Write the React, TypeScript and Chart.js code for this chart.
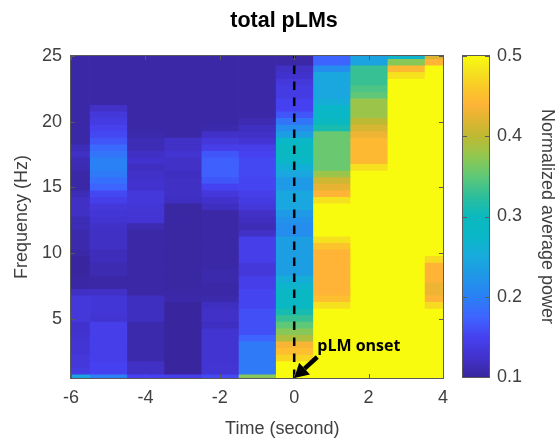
import React, { useEffect, useRef } from "react";
import { Chart, registerables } from "chart.js";

Chart.register(...registerables);

// Time columns (seconds); every column below lists power from 25 Hz down to 0.5 Hz
const times = [-6, -5, -4, -3, -2, -1, 0, 1, 2, 3, 4];
const frequencies = [25, 24.5, 24, 23.5, 23, 22.5, 22, 21.5, 21, 20.5, 20, 19.5, 19, 18.5, 18, 17.5, 17, 16.5, 16, 15.5, 15, 14.5, 14, 13.5, 13, 12.5, 12, 11.5, 11, 10.5, 10, 9.5, 9, 8.5, 8, 7.5, 7, 6.5, 6, 5.5, 5, 4.5, 4, 3.5, 3, 2.5, 2, 1.5, 1, 0.5];

const powerM6 = [.105, .105, .105, .105, .105, .105, .105, .105, .105, .105, .105, .105, .105, .105, .115, .12, .112, .11, .105, .105, .105, .112, .12, .12, .12, .112, .112, .108, .108, .108, .105, .1, .1, .1, .103, .103, .12, .135, .135, .135, .135, .125, .125, .128, .13, .13, .135, .135, .14, .24];
const powerM5 = [.105, .105, .105, .105, .105, .105, .105, .105, .122, .135, .14, .148, .155, .165, .18, .19, .2, .2, .195, .185, .175, .155, .145, .135, .132, .128, .122, .12, .12, .12, .115, .115, .11, .11, .105, .105, .122, .132, .132, .132, .128, .145, .145, .145, .145, .145, .145, .15, .15, .2];
const powerM4 = [.105, .105, .105, .105, .105, .105, .105, .105, .105, .105, .105, .105, .108, .112, .112, .12, .125, .118, .122, .125, .125, .135, .135, .132, .13, .13, .11, .105, .105, .105, .105, .105, .105, .105, .105, .105, .105, .118, .118, .118, .118, .108, .108, .108, .108, .108, .108, .12, .12, .15];
const powerM3 = [.105, .105, .105, .105, .105, .105, .105, .105, .105, .105, .105, .105, .105, .122, .122, .128, .122, .122, .118, .12, .12, .12, .118, .102, .102, .102, .102, .102, .102, .102, .102, .102, .102, .102, .102, .102, .105, .106, .1, .1, .1, .1, .1, .1, .1, .1, .1, .1, .1, .145];
const powerM2 = [.105, .105, .105, .105, .105, .105, .105, .105, .105, .105, .105, .108, .122, .135, .145, .165, .172, .172, .172, .165, .15, .135, .125, .118, .105, .105, .105, .105, .105, .105, .105, .105, .105, .108, .108, .105, .105, .108, .118, .122, .122, .118, .128, .128, .128, .128, .128, .13, .13, .155];
const powerM1 = [.105, .105, .105, .105, .105, .105, .105, .105, .105, .105, .11, .118, .122, .13, .145, .15, .155, .155, .155, .152, .152, .145, .14, .135, .122, .118, .112, .122, .145, .145, .145, .145, .135, .135, .145, .145, .152, .152, .152, .16, .16, .16, .16, .175, .195, .195, .195, .195, .195, .37];
const power0 = [.105, .105, .12, .125, .135, .14, .14, .15, .15, .165, .19, .215, .235, .28, .29, .29, .28, .26, .245, .23, .23, .245, .245, .245, .23, .22, .215, .215, .235, .235, .235, .235, .235, .235, .255, .27, .285, .285, .285, .31, .33, .35, .37, .39, .435, .45, .47, .5, .5, .5];
const power1 = [.175, .175, .215, .245, .245, .245, .245, .255, .275, .28, .29, .31, .355, .355, .355, .355, .355, .355, .38, .41, .425, .44, .48, .5, .5, .5, .5, .5, .48, .455, .44, .44, .44, .44, .44, .44, .44, .45, .48, .5, .5, .5, .5, .5, .5, .5, .5, .5, .5, .5];
const power2 = [.24, .24, .33, .33, .33, .34, .35, .38, .38, .38, .4, .415, .43, .445, .445, .445, .445, .48, .5, .5, .5, .5, .5, .5, .5, .5, .5, .5, .5, .5, .5, .5, .5, .5, .5, .5, .5, .5, .5, .5, .5, .5, .5, .5, .5, .5, .5, .5, .5, .5];
const power3 = [.27, .37, .445, .48, .5, .5, .5, .5, .5, .5, .5, .5, .5, .5, .5, .5, .5, .5, .5, .5, .5, .5, .5, .5, .5, .5, .5, .5, .5, .5, .5, .5, .5, .5, .5, .5, .5, .5, .5, .5, .5, .5, .5, .5, .5, .5, .5, .5, .5, .5];
const power4 = [.42, .44, .5, .5, .5, .5, .5, .5, .5, .5, .5, .5, .5, .5, .5, .5, .5, .5, .5, .5, .5, .5, .5, .5, .5, .5, .5, .5, .5, .5, .5, .475, .44, .44, .44, .43, .43, .44, .475, .5, .5, .5, .5, .5, .5, .5, .5, .5, .5, .5];
const powerColumns = [powerM6, powerM5, powerM4, powerM3, powerM2, powerM1, power0, power1, power2, power3, power4];

const yTicks = [5, 10, 15, 20, 25];
const colorbarTicks = [0.1, 0.2, 0.3, 0.4, 0.5];

const rampValues = [.1, .125, .15, .175, .2, .225, .25, .275, .3, .325, .35, .375, .4, .425, .44, .46, .48, .5];
const rampColors = [[57, 38, 158], [66, 50, 205], [70, 65, 240], [62, 100, 255], [42, 128, 245], [32, 150, 232], [24, 170, 220], [10, 183, 200], [10, 185, 190], [45, 190, 155], [95, 200, 120], [145, 200, 80], [190, 185, 50], [230, 180, 50], [255, 180, 55], [250, 200, 40], [245, 225, 30], [249, 251, 14]];

const onsetLine = [{ x: 0, y: 0.5 }, { x: 0, y: 25 }];
const arrowTail = { x: 0.62, y: 2.1 };
const arrowTip = { x: 0, y: 0.5 };
const arrowLabel = { text: "pLM onset", x: 0.62, y: 2.55 };
const xAxisLabel = { text: "Time (second)", centerValue: -0.32 };

function powerColor(v: number) {
  const c = Math.min(0.5, Math.max(0.1, v));
  let k = 0;
  while (k < rampValues.length - 2 && c > rampValues[k + 1]) k++;
  const t = (c - rampValues[k]) / (rampValues[k + 1] - rampValues[k]);
  const rgb = rampColors[k].map((a, j) => Math.round(a + (rampColors[k + 1][j] - a) * t));
  return `rgb(${rgb[0]},${rgb[1]},${rgb[2]})`;
}

const INK = "#404040";
const FRAME = "#5a5a5a";

const framePlugin = {
  id: "frame",
  afterDatasetsDraw(chart: any, _a: any, opts: any) {
    const { ctx, chartArea: a, scales } = chart;
    ctx.save();
    ctx.strokeStyle = FRAME;
    ctx.lineWidth = 1;
    ctx.beginPath();
    const crisp = (n: number) => Math.round(n) + 0.5;
    const L = 4;
    if (opts.xTicks) {
      for (const t of scales.x.ticks) {
        const px = crisp(scales.x.getPixelForValue(t.value));
        ctx.moveTo(px, a.bottom);
        ctx.lineTo(px, a.bottom - L);
        ctx.moveTo(px, a.top);
        ctx.lineTo(px, a.top + L);
      }
    }
    for (const t of scales.y.ticks) {
      const py = crisp(scales.y.getPixelForValue(t.value));
      ctx.moveTo(a.left, py);
      ctx.lineTo(a.left + L, py);
      ctx.moveTo(a.right, py);
      ctx.lineTo(a.right - L, py);
    }
    ctx.stroke();
    ctx.strokeRect(a.left - 0.5, a.top - 0.5, a.right - a.left + 1, a.bottom - a.top + 1);
    ctx.restore();
  },
};

const arrowPlugin = {
  id: "onsetArrow",
  afterDatasetsDraw(chart: any) {
    const { ctx, scales } = chart;
    const tx = scales.x.getPixelForValue(arrowTail.x);
    const ty = scales.y.getPixelForValue(arrowTail.y);
    const hx = scales.x.getPixelForValue(arrowTip.x);
    const hy = scales.y.getPixelForValue(arrowTip.y);
    const ang = Math.atan2(hy - ty, hx - tx);
    const head = 14;
    const nx = hx - Math.cos(ang) * head;
    const ny = hy - Math.sin(ang) * head;
    ctx.save();
    ctx.strokeStyle = "#000";
    ctx.fillStyle = "#000";
    ctx.lineWidth = 4.5;
    ctx.beginPath();
    ctx.moveTo(tx, ty);
    ctx.lineTo(nx, ny);
    ctx.stroke();
    ctx.beginPath();
    ctx.moveTo(hx, hy);
    ctx.lineTo(nx + Math.sin(ang) * 8, ny - Math.cos(ang) * 8);
    ctx.lineTo(nx - Math.sin(ang) * 8, ny + Math.cos(ang) * 8);
    ctx.closePath();
    ctx.fill();
    ctx.font = 'bold 16px "Open Sans"';
    ctx.textAlign = "left";
    ctx.textBaseline = "alphabetic";
    ctx.fillText(arrowLabel.text, scales.x.getPixelForValue(arrowLabel.x), scales.y.getPixelForValue(arrowLabel.y));
    // x-axis label: sits to the right of the axis centre in the original figure
    ctx.fillStyle = INK;
    ctx.font = '18px "Liberation Sans"';
    ctx.textAlign = "center";
    ctx.textBaseline = "middle";
    ctx.fillText(xAxisLabel.text, scales.x.getPixelForValue(xAxisLabel.centerValue), 429);
    ctx.restore();
  },
};

export default function App() {
  const mainRef = useRef<HTMLCanvasElement>(null);
  const barRef = useRef<HTMLCanvasElement>(null);

  useEffect(() => {
    document.body.style.margin = "0";
    const tickFont = { family: '"Liberation Sans"', size: 18 };
    const titleFont = { family: '"Liberation Sans"', size: 18 };

    const heat: any[] = powerColumns.map((values, c) => ({
      type: "bar",
      order: 2,
      grouped: false,
      barPercentage: 1,
      categoryPercentage: 1,
      borderWidth: 0,
      data: values.map((_, r) => ({ x: times[c], y: [frequencies[r] - 0.25, frequencies[r] + 0.25] })),
      backgroundColor: (ctx: any) => powerColor(values[ctx.dataIndex] ?? 0.1),
    }));

    const main = new Chart(mainRef.current!, {
      type: "bar",
      data: {
        datasets: [
          ...heat,
          {
            type: "line",
            order: 1,
            data: onsetLine,
            borderColor: "#000",
            borderWidth: 2.5,
            borderDash: [8.5, 7.5],
            pointRadius: 0,
            fill: false,
          },
        ],
      },
      plugins: [framePlugin, arrowPlugin],
      options: {
        animation: false,
        responsive: false,
        layout: { padding: 0 },
        plugins: {
          legend: { display: false },
          tooltip: { enabled: false },
          frame: { xTicks: true },
          title: {
            display: true,
            text: "total pLMs",
            color: "#000",
            font: { family: '"Liberation Sans"', size: 21.5, weight: "bold", lineHeight: 1.2 },
            padding: { top: 8, bottom: 22.2 },
          },
        } as any,
        scales: {
          x: {
            type: "linear",
            min: -6,
            max: 4,
            offset: false,
            grid: { display: false, drawTicks: false },
            border: { display: false },
            ticks: { stepSize: 2, color: INK, font: tickFont, padding: 9, maxRotation: 0 },
            afterFit: (s: any) => { s.height = 61; },
          },
          y: {
            type: "linear",
            min: 0.5,
            max: 25,
            grid: { display: false, drawTicks: false },
            border: { display: false },
            afterBuildTicks: (s: any) => { s.ticks = yTicks.map((value) => ({ value })); },
            ticks: { color: INK, font: tickFont, padding: 9 },
            title: { display: true, text: "Frequency (Hz)", color: INK, font: titleFont, padding: { top: 11, bottom: 0 } },
            afterFit: (s: any) => { s.width = 71; },
          },
          spacer: {
            type: "linear",
            position: "right",
            display: true,
            grid: { display: false, drawTicks: false },
            border: { display: false },
            ticks: { display: false },
            afterFit: (s: any) => { s.width = 125; },
          },
        },
      } as any,
    });

    const colorbar = new Chart(barRef.current!, {
      type: "bar",
      data: {
        labels: [""],
        datasets: [
          {
            data: [[0.1, 0.5]],
            barPercentage: 1,
            categoryPercentage: 1,
            borderWidth: 0,
            backgroundColor: (ctx: any) => {
              const y = ctx.chart.scales.y;
              if (!ctx.chart.chartArea || !y) return "#888";
              const g = ctx.chart.ctx.createLinearGradient(0, y.getPixelForValue(0.1), 0, y.getPixelForValue(0.5));
              rampValues.forEach((v) => g.addColorStop((v - 0.1) / 0.4, powerColor(v)));
              return g;
            },
          },
        ],
      } as any,
      plugins: [framePlugin],
      options: {
        animation: false,
        responsive: false,
        layout: { padding: { left: 23, right: 0, top: 56, bottom: 62 } },
        plugins: {
          legend: { display: false },
          tooltip: { enabled: false },
          frame: { xTicks: false },
        } as any,
        scales: {
          x: { display: false },
          y: {
            position: "right",
            min: 0.1,
            max: 0.5,
            grid: { display: false, drawTicks: false },
            border: { display: false },
            afterBuildTicks: (s: any) => { s.ticks = colorbarTicks.map((value) => ({ value })); },
            ticks: {
              color: INK,
              font: tickFont,
              padding: 8,
              callback: (v: any) => Number(v).toFixed(1),
            },
            title: { display: true, text: "Normalized average power", color: INK, font: { ...titleFont, lineHeight: 1 }, padding: { top: 0, bottom: 0 } },
            afterFit: (s: any) => { s.width = 67; },
          },
        },
      } as any,
    });

    return () => {
      main.destroy();
      colorbar.destroy();
    };
  }, []);

  return (
    <div style={{ position: "relative", width: 556, height: 439, overflow: "hidden", background: "#fff" }}>
      <canvas ref={mainRef} width={568} height={439} style={{ position: "absolute", left: 0, top: 0, width: 568, height: 439, filter: "blur(0.4px)" }} />
      <canvas ref={barRef} width={116} height={439} style={{ position: "absolute", left: 440, top: 0, width: 116, height: 439, filter: "blur(0.4px)" }} />
    </div>
  );
}
